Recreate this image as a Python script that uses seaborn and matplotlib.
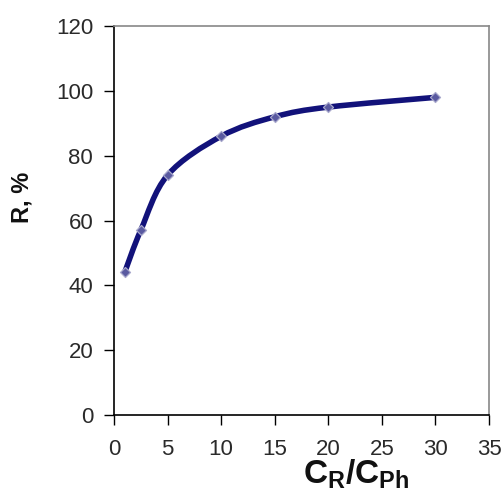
import numpy as np
import matplotlib
matplotlib.use("Agg")
import matplotlib.pyplot as plt
from matplotlib.path import Path
from matplotlib.patches import PathPatch
import seaborn as sns
import pandas as pd

# Molar ratio of reagent to phenol and recovery, %
ratio = [1, 2.5, 5, 10, 15, 20, 30]
recovery = [44, 57, 74, 86, 92, 95, 98]

x_ticks = [0, 5, 10, 15, 20, 25, 30, 35]
y_ticks = [0, 20, 40, 60, 80, 100, 120]

sns.set_theme(style="white")
plt.rcParams["font.family"] = ["Liberation Sans", "DejaVu Sans"]
plt.rcParams["mathtext.fontset"] = "custom"
plt.rcParams["mathtext.rm"] = "Liberation Sans"
plt.rcParams["mathtext.bf"] = "Liberation Sans:bold"

df = pd.DataFrame({"ratio": ratio, "recovery": recovery})

fig = plt.figure(figsize=(5.03, 4.97), dpi=100)
ax = fig.add_axes([0.2266, 0.165, 0.7456, 0.7826])

line_color = "#12127a"

# Smoothed connecting curve (cubic Bezier segments through the points)
xs = np.asarray(ratio, float)
ys = np.asarray(recovery, float)
n = len(xs)
verts = [(xs[0], ys[0])]
codes = [Path.MOVETO]
for i in range(n - 1):
    p0 = np.array([xs[max(i - 1, 0)], ys[max(i - 1, 0)]])
    p1 = np.array([xs[i], ys[i]])
    p2 = np.array([xs[i + 1], ys[i + 1]])
    p3 = np.array([xs[min(i + 2, n - 1)], ys[min(i + 2, n - 1)]])
    c1 = p1 + (p2 - p0) / 6.0
    c2 = p2 - (p3 - p1) / 6.0
    verts += [tuple(c1), tuple(c2), tuple(p2)]
    codes += [Path.CURVE4, Path.CURVE4, Path.CURVE4]
ax.add_patch(PathPatch(Path(verts, codes), facecolor="none", edgecolor=line_color,
                       lw=4.0, capstyle="round", joinstyle="round", zorder=2))

sns.scatterplot(data=df, x="ratio", y="recovery", ax=ax, marker="D", s=26,
                facecolor="#5a5aa0", edgecolor="#a8a8cc", linewidth=0.9,
                zorder=3, legend=False)

ax.set_xlim(0, 35)
ax.set_ylim(0, 120)
ax.set_xticks(x_ticks)
ax.set_yticks(y_ticks)
ax.tick_params(axis="both", which="major", direction="out", length=7, width=1.0,
               color="black", labelsize=16, labelcolor="#2a2a2a", pad=8,
               bottom=True, left=True, top=False, right=False)
ax.tick_params(axis="x", pad=10)

for side in ("left", "bottom"):
    ax.spines[side].set_color("black")
    ax.spines[side].set_linewidth(1.2)
for side in ("top", "right"):
    ax.spines[side].set_color("#888888")
    ax.spines[side].set_linewidth(1.2)

ax.set_xlabel(r"$\mathbf{C_{R}/C_{Ph}}$", fontsize=24, color="#111111")
ax.xaxis.set_label_coords(0.645, -0.11, transform=ax.transAxes)
ax.xaxis.label.set_va("top")
ax.set_ylabel("R, %", fontsize=17, fontweight="bold", color="#111111")
ax.yaxis.set_label_coords(-0.215, 0.56, transform=ax.transAxes)

fig.savefig("out.png", dpi=100)
